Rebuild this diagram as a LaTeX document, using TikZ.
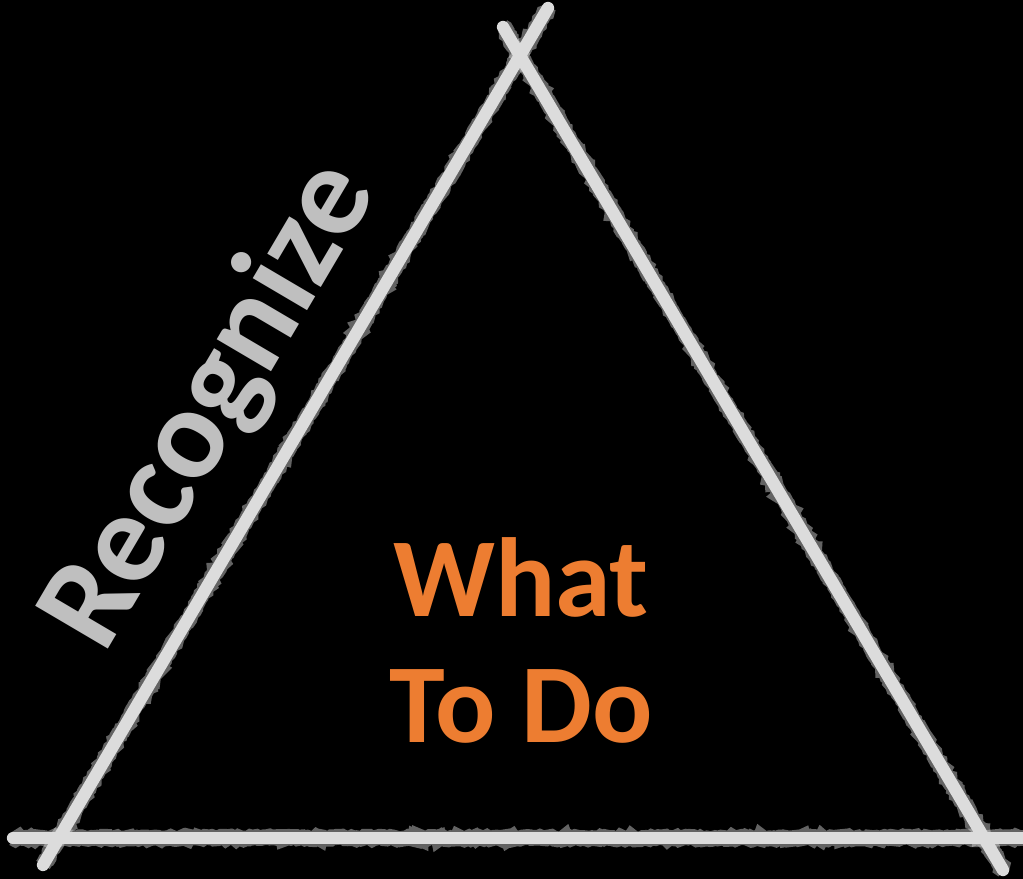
\documentclass[tikz,border=0pt]{standalone}
\usepackage{fontspec}
\setmainfont{Carlito}
\usetikzlibrary{decorations.pathmorphing}
\definecolor{chalk}{HTML}{DCDCDC}
\definecolor{labelgray}{HTML}{BFBFBF}
\definecolor{todoorange}{HTML}{ED7D31}
\begin{document}
\begin{tikzpicture}
\tikzset{chalkline/.style={draw=chalk, line width=7pt, line cap=round},
         chalkfuzz/.style={draw=chalk, line width=9pt, opacity=0.45,
           decorate, decoration={random steps, segment length=1.5pt, amplitude=0.8pt}},
         bigtext/.style={font=\bfseries\fontsize{64}{72}\selectfont, inner sep=0pt}}
\fill[black] (0,0) rectangle (20.46,17.58);
\useasboundingbox (0,0) rectangle (20.46,17.58);
\coordinate (L1) at (0.86,0.28);
\coordinate (L2) at (10.96,17.42);
\coordinate (R1) at (10.06,17.04);
\coordinate (R2) at (20.06,0.18);
\coordinate (B1) at (0.26,0.82);
\coordinate (B2) at (20.46,0.82);
\draw[chalkfuzz] (L1) -- (L2);
\draw[chalkfuzz] (R1) -- (R2);
\draw[chalkfuzz] (B1) -- (B2);
\draw[chalkline] (L1) -- (L2);
\draw[chalkline] (R1) -- (R2);
\draw[chalkline] (B1) -- (B2);
\node[bigtext, text=labelgray, rotate=59.5, font=\bfseries\fontsize{74}{80}\selectfont] (recog) at (4.22,9.46) {Recognize};
\node[bigtext, text=todoorange, align=center, anchor=base] (todo) at (10.42,2.72) {What\\To Do};
\end{tikzpicture}
\end{document}
